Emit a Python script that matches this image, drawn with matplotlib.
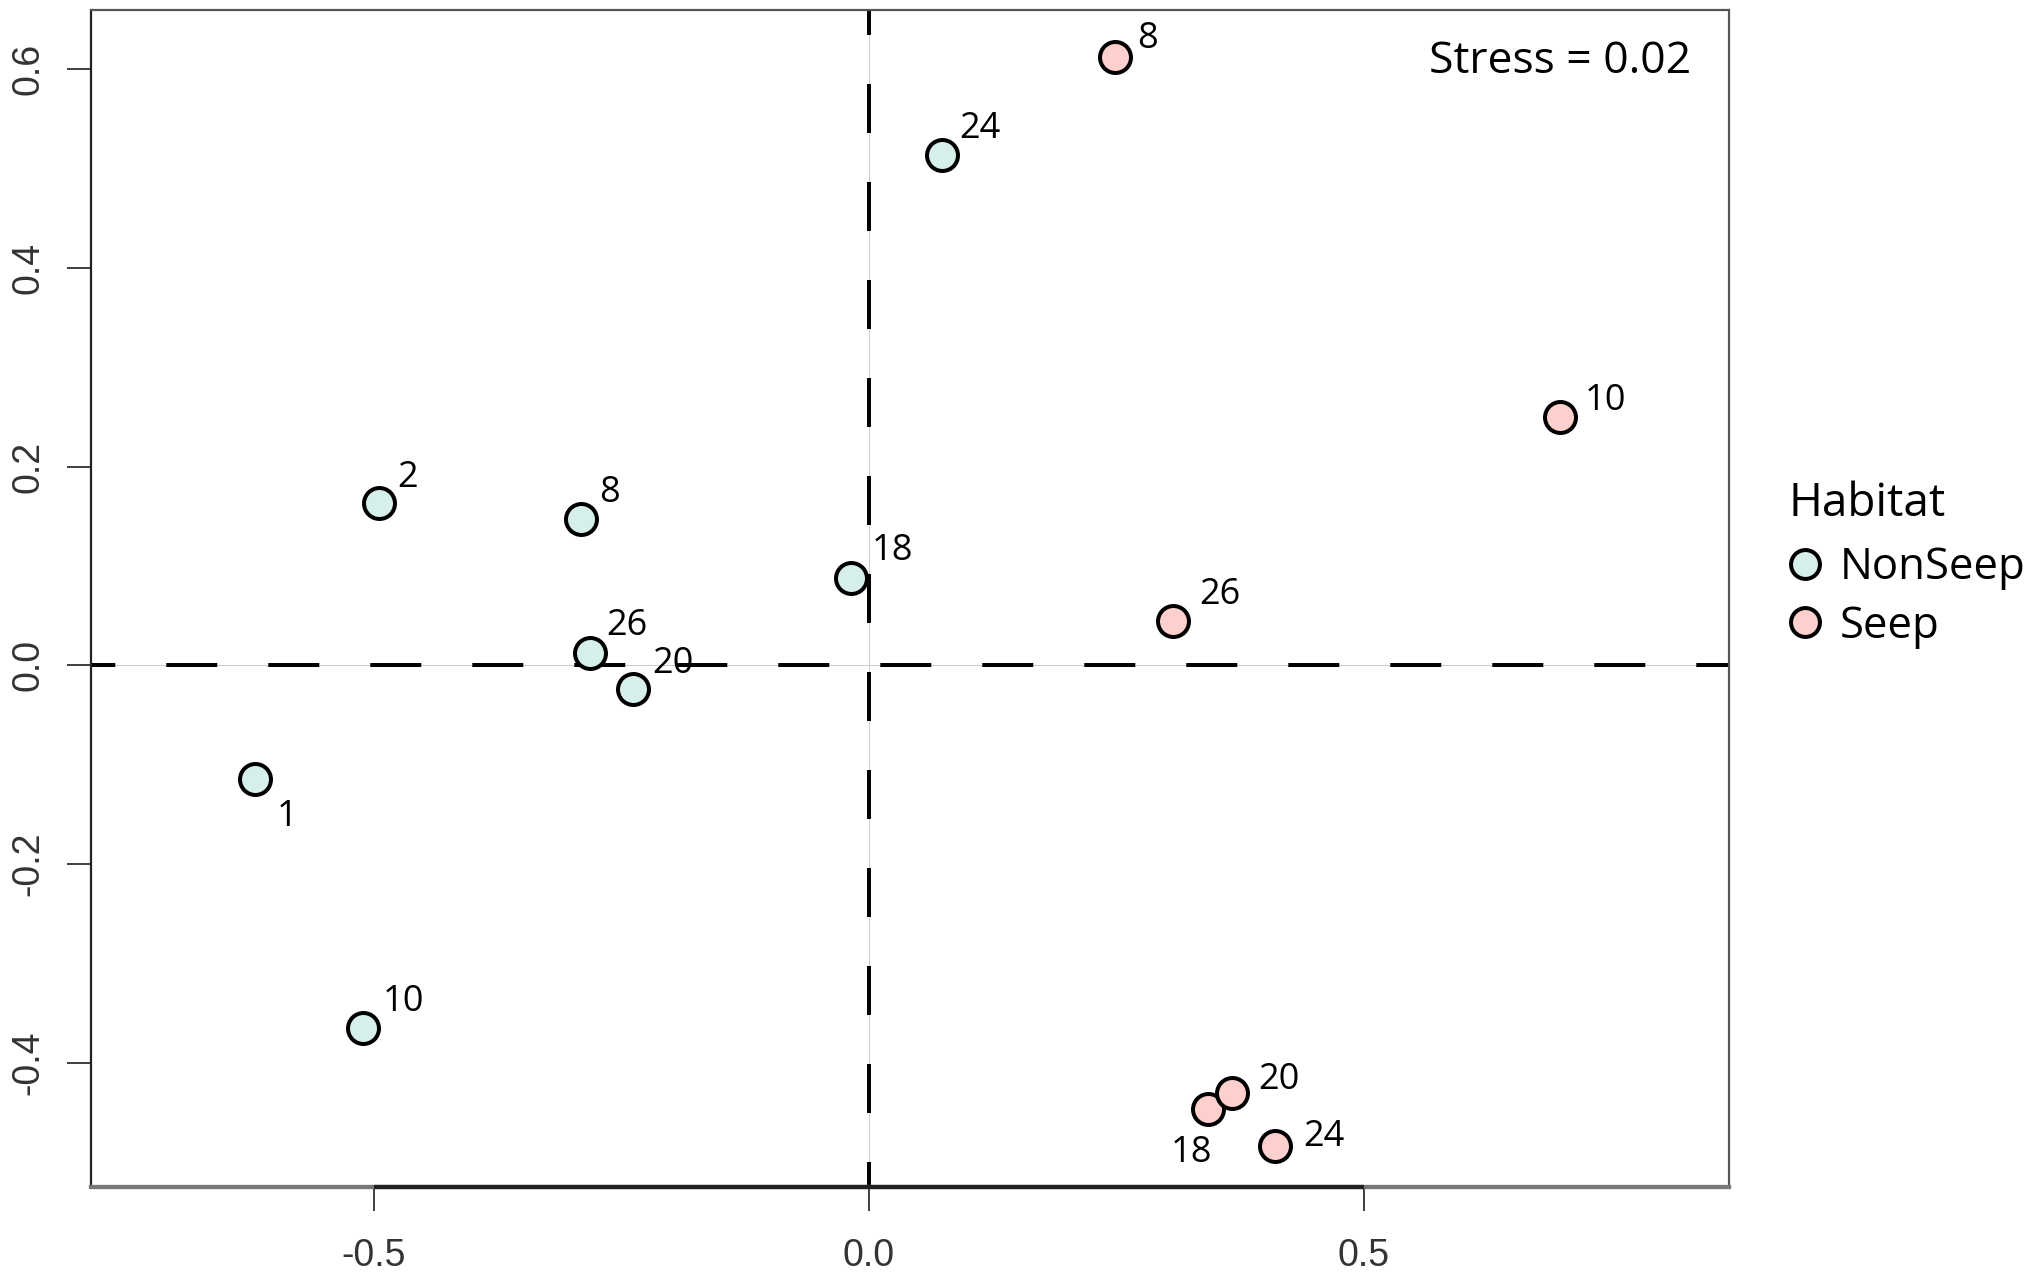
import matplotlib
matplotlib.use('Agg')
import matplotlib.pyplot as plt
from matplotlib.lines import Line2D

# NMDS site scores
nonseep_labels = ['1', '2', '8', '10', '18', '20', '24', '26']
nonseep_x = [-0.620, -0.4945, -0.2907, -0.511, -0.0177, -0.238, 0.0735, -0.282]
nonseep_y = [-0.1147, 0.1638, 0.147, -0.365, 0.0883, -0.0242, 0.514, 0.0128]

seep_labels = ['8', '10', '18', '20', '24', '26']
seep_x = [0.249, 0.698, 0.343, 0.367, 0.410, 0.307]
seep_y = [0.612, 0.250, -0.447, -0.430, -0.484, 0.0446]

stress_text = "Stress = 0.02"
legend_title = "Habitat"
group_names = ["NonSeep", "Seep"]

x_ticks = [-0.5, 0.0, 0.5]
y_ticks = [-0.4, -0.2, 0.0, 0.2, 0.4, 0.6]

# label offsets in pixels (dx right, dy down), ha
nonseep_offsets = [(21.5, 47, 'left'), (18, -15.6, 'left'), (18, -17.3, 'left'),
                   (20, -17, 'left'), (20.5, -17.3, 'left'), (19, -16.7, 'left'),
                   (18, -17, 'left'), (17, -17.3, 'left')]
seep_offsets = [(22, -9, 'left'), (25, -7.4, 'left'), (4, 53, 'right'),
                (26.5, -4, 'left'), (29, 0, 'left'), (27, -17.4, 'left')]

NONSEEP_COLOR = '#d6efeb'
SEEP_COLOR = '#fdd0cd'
PX = 0.72  # points per pixel at dpi 100

plt.rcParams['lines.scale_dashes'] = False
label_font = ['Open Sans', 'DejaVu Sans']
tick_font = ['Liberation Sans', 'DejaVu Sans']

fig = plt.figure(figsize=(20.31, 12.78), dpi=100)
W, H = 2031, 1278
left, right, top, bottom = 90.7, 1729, 9.5, 1187
ax = fig.add_axes([left / W, 1 - bottom / H, (right - left) / W, (bottom - top) / H])
ax.set_xlim(-0.786, 0.869)
ax.set_ylim(-0.525, 0.660)

# reference lines at zero
ax.axhline(0, color='#cccccc', lw=1 * PX, zorder=1)
ax.axvline(0, color='#cccccc', lw=1 * PX, zorder=1)
ax.axhline(0, color='black', lw=4 * PX, linestyle=(26.7 * PX, (51 * PX, 51 * PX)), zorder=2)
ax.axvline(0, color='black', lw=4 * PX, linestyle=(24 * PX, (49 * PX, 49 * PX)), zorder=2)

ms = 22.3
mew = 4 * PX
ax.plot(nonseep_x, nonseep_y, 'o', ms=ms, mfc=NONSEEP_COLOR, mec='black', mew=mew, zorder=3)
ax.plot(seep_x, seep_y, 'o', ms=ms, mfc=SEEP_COLOR, mec='black', mew=mew, zorder=3)

for xs, ys, labs, offs in [(nonseep_x, nonseep_y, nonseep_labels, nonseep_offsets),
                           (seep_x, seep_y, seep_labels, seep_offsets)]:
    for x, y, lab, (dx, dy, ha) in zip(xs, ys, labs, offs):
        ax.annotate(lab, (x, y), xytext=(dx * PX, -dy * PX), textcoords='offset points',
                    ha=ha, va='baseline', fontsize=26, family=label_font, zorder=4)

ax.text((1691.6 - left) / (right - left), (bottom - 72.8) / (bottom - top), stress_text,
        transform=ax.transAxes, ha='right', va='baseline', fontsize=32, family=label_font)

# axes styling, R base-graphics look
ax.set_xticks(x_ticks)
ax.set_xticklabels(['%.1f' % v for v in x_ticks], family=tick_font, fontsize=27, color='#333333')
ax.set_yticks(y_ticks)
ax.set_yticklabels(['%.1f' % v for v in y_ticks], family=tick_font, fontsize=27, color='#333333',
                   rotation=90, va='center')
ax.tick_params(axis='both', direction='out', length=23.6 * PX, width=2 * PX, color='#444444')
ax.tick_params(axis='x', pad=20)
ax.tick_params(axis='y', pad=15)
for side in ['top', 'right', 'left']:
    ax.spines[side].set_color('#555555')
    ax.spines[side].set_linewidth(2.2 * PX)
ax.spines['left'].set_color('#222222')
ax.spines['bottom'].set_color('#777777')
ax.spines['bottom'].set_linewidth(4.3 * PX)
ax.plot([x_ticks[0], x_ticks[-1]], [0, 0], transform=ax.get_xaxis_transform(),
        color='#222222', lw=4.3 * PX, clip_on=False, solid_capstyle='butt', zorder=5)

handles = [Line2D([], [], marker='o', ls='none', ms=20.8, mfc=c, mec='black', mew=mew)
           for c in [NONSEEP_COLOR, SEEP_COLOR]]
leg = ax.legend(handles, group_names, title=legend_title, loc='upper left',
                bbox_to_anchor=(1789 / W, 1 - 481 / H), bbox_transform=fig.transFigure,
                frameon=False, borderpad=0, borderaxespad=0, handlelength=0.75,
                handletextpad=0.41, labelspacing=0.32, alignment='left',
                prop={'family': label_font, 'size': 31.5},
                title_fontproperties={'family': label_font, 'size': 33})
leg._legend_box.sep = 13.5  # gap between title and entries, points

fig.savefig('out.png', dpi=100)
